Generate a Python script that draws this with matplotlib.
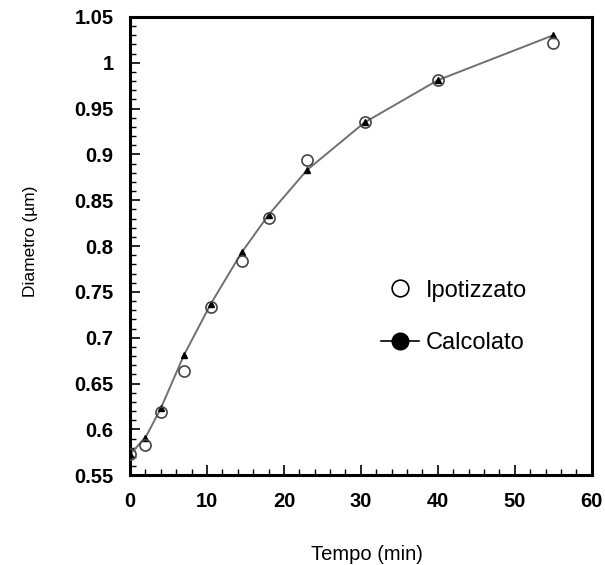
import numpy as np
import matplotlib
matplotlib.use('Agg')
import matplotlib.pyplot as plt
from matplotlib.lines import Line2D
from matplotlib.ticker import MultipleLocator, FuncFormatter

# Values
tempo = [0, 2, 4, 7, 10.5, 14.5, 18, 23, 30.5, 40, 55]
calcolato = [0.573, 0.591, 0.623, 0.681, 0.737, 0.793, 0.834, 0.883, 0.935, 0.981, 1.030]
ipotizzato = [0.573, 0.583, 0.619, 0.664, 0.733, 0.784, 0.831, 0.894, 0.935, 0.981, 1.022]

plt.rcParams['font.family'] = ['Liberation Sans', 'DejaVu Sans']

fig = plt.figure(figsize=(6.05, 5.65), dpi=100)
ax = fig.add_axes([0.215, 0.159, 0.763, 0.811])

ax.plot(tempo, calcolato, color='#707070', linewidth=1.4, zorder=2)
ax.plot(tempo, calcolato, linestyle='none', marker='^', markersize=5,
        color='black', zorder=3)
ax.plot(tempo, ipotizzato, linestyle='none', marker='o', markersize=8,
        markerfacecolor='none', markeredgecolor='#444444', markeredgewidth=1.2, zorder=4)

ax.set_xlim(0, 60)
ax.set_ylim(0.55, 1.05)
ax.xaxis.set_major_locator(MultipleLocator(10))
ax.xaxis.set_minor_locator(MultipleLocator(2))
ax.yaxis.set_major_locator(MultipleLocator(0.05))
ax.yaxis.set_minor_locator(MultipleLocator(0.01))

def fmt(v, pos):
    s = f'{v:.2f}'.rstrip('0').rstrip('.')
    return s
ax.yaxis.set_major_formatter(FuncFormatter(fmt))

ax.tick_params(which='major', direction='in', length=7, width=1.2,
               labelsize=14.5, pad=12)
ax.tick_params(which='minor', direction='in', length=4, width=1)
for lab in ax.get_xticklabels() + ax.get_yticklabels():
    lab.set_fontweight('bold')
for sp in ax.spines.values():
    sp.set_linewidth(2.2)

fig.text(0.05, 1 - 241 / 565, 'Diametro (µm)', rotation=90,
         ha='center', va='center', fontsize=12.5)
fig.text(367 / 605, 1 - 555 / 565, 'Tempo (min)', ha='center', va='center',
         fontsize=14.5)

handles = [
    Line2D([], [], linestyle='none', marker='o', markersize=12,
           markerfacecolor='none', markeredgecolor='black', markeredgewidth=1.2),
    Line2D([], [], color='black', linewidth=1.2, marker='o', markersize=12,
           markerfacecolor='black'),
]
ax.legend(handles, ['Ipotizzato', 'Calcolato'], loc='center left',
          bbox_to_anchor=(0.498, 0.345), frameon=False, fontsize=17,
          handlelength=1.6, handletextpad=0.3, labelspacing=1.3)

fig.savefig('out.png', dpi=100)
